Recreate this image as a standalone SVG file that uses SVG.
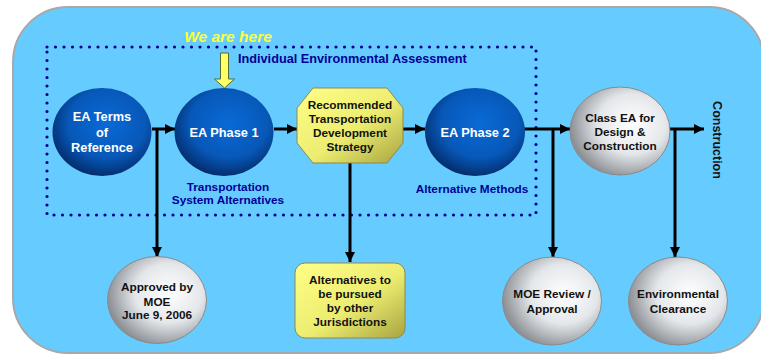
<svg xmlns="http://www.w3.org/2000/svg" width="761" height="355" viewBox="0 0 761 355">
<defs>
<radialGradient id="gBlue" cx="0.55" cy="0.4" r="0.6">
<stop offset="0" stop-color="#0a6ad6"/>
<stop offset="0.65" stop-color="#0758b8"/>
<stop offset="1" stop-color="#032f70"/>
</radialGradient>
<radialGradient id="gSilver" cx="0.62" cy="0.42" r="0.62">
<stop offset="0" stop-color="#ffffff"/>
<stop offset="0.55" stop-color="#e4e7ea"/>
<stop offset="1" stop-color="#8d9196"/>
</radialGradient>
<linearGradient id="gYellow" x1="0" y1="0" x2="1" y2="1">
<stop offset="0" stop-color="#ffff88"/>
<stop offset="0.55" stop-color="#ecec70"/>
<stop offset="1" stop-color="#a8a440"/>
</linearGradient>
<marker id="ah" viewBox="0 0 10 10" refX="10" refY="5" markerWidth="10" markerHeight="10" markerUnits="userSpaceOnUse" orient="auto">
<path d="M0,0 L10,5 L0,10 Z" fill="#000"/>
</marker>
</defs>
<style>
.lbl{font-family:"Liberation Sans",Arial,sans-serif;font-weight:bold;font-size:11.8px;text-anchor:middle}
.w{fill:#fff;font-size:12.8px}
.k{fill:#111}
.b{fill:#000099}
.edge{stroke:#000;stroke-width:3;fill:none}
</style>
<rect x="13" y="7" width="751" height="346" rx="55" ry="55" fill="#66ccff" stroke="#a8a8a8" stroke-width="2"/>
<g id="iea-box">
<rect x="47" y="47" width="489" height="168" fill="none" stroke="#000099" stroke-width="3.2" stroke-dasharray="0 8.5" stroke-linecap="round"/>
<text class="lbl b" x="238" y="63" style="text-anchor:start;font-size:12.7px">Individual Environmental Assessment</text>
</g>
<g id="we-are-here">
<text x="228" y="42" style="font-family:'Liberation Sans',Arial,sans-serif;font-weight:bold;font-style:italic;font-size:15.5px;text-anchor:middle;fill:#ffff33">We are here</text>
<path d="M220.5,53 L228.5,53 L228.5,79 L234.5,79 L224.5,88 L214.5,79 L220.5,79 Z" fill="#ffff66" stroke="#556b2f" stroke-width="1"/>
</g>
<g id="connectors">
<line class="edge" x1="152" y1="129" x2="175" y2="129" marker-end="url(#ah)"/>
<line class="edge" x1="157" y1="129" x2="157" y2="257" marker-end="url(#ah)"/>
<line class="edge" x1="274" y1="129" x2="297" y2="129" marker-end="url(#ah)"/>
<line class="edge" x1="350" y1="163" x2="350" y2="262" marker-end="url(#ah)"/>
<line class="edge" x1="403" y1="129" x2="425" y2="129" marker-end="url(#ah)"/>
<line class="edge" x1="520" y1="129" x2="570" y2="129" marker-end="url(#ah)"/>
<line class="edge" x1="553" y1="129" x2="553" y2="257" marker-end="url(#ah)"/>
<line class="edge" x1="670" y1="129" x2="704" y2="129" marker-end="url(#ah)"/>
<line class="edge" x1="675" y1="129" x2="675" y2="257" marker-end="url(#ah)"/>
</g>
<g id="ea-terms">
<ellipse cx="102" cy="132" rx="49.5" ry="44" fill="url(#gBlue)"/>
<text class="lbl w" x="102" y="121">EA Terms</text>
<text class="lbl w" x="102" y="137">of</text>
<text class="lbl w" x="102" y="152">Reference</text>
</g>
<g id="ea-phase1">
<ellipse cx="224" cy="132" rx="49.5" ry="44" fill="url(#gBlue)"/>
<text class="lbl w" x="224" y="137">EA Phase 1</text>
<text class="lbl b" x="228" y="191">Transportation</text>
<text class="lbl b" x="228" y="204">System Alternatives</text>
</g>
<g id="rtds">
<polygon points="313,88 387,88 403,108 403,143 387,163 313,163 297,143 297,108" fill="url(#gYellow)" stroke="#8a8a50" stroke-width="1"/>
<text class="lbl k" x="350" y="109">Recommended</text>
<text class="lbl k" x="350" y="123">Transportation</text>
<text class="lbl k" x="350" y="137">Development</text>
<text class="lbl k" x="350" y="151">Strategy</text>
</g>
<g id="ea-phase2">
<ellipse cx="475" cy="132" rx="50" ry="44" fill="url(#gBlue)"/>
<text class="lbl w" x="475" y="137">EA Phase 2</text>
<text class="lbl b" x="472" y="193">Alternative Methods</text>
</g>
<g id="class-ea">
<ellipse cx="620" cy="131" rx="50" ry="44" fill="url(#gSilver)" stroke="#8a8a8a" stroke-width="1"/>
<text class="lbl k" x="620" y="122">Class EA for</text>
<text class="lbl k" x="620" y="136">Design &amp;</text>
<text class="lbl k" x="620" y="150">Construction</text>
</g>
<g id="construction">
<text class="lbl k" transform="translate(713,140) rotate(90)" x="0" y="0" style="font-size:12.5px">Construction</text>
</g>
<g id="approved">
<ellipse cx="157" cy="300" rx="49.5" ry="43.5" fill="url(#gSilver)" stroke="#8a8a8a" stroke-width="1"/>
<text class="lbl k" x="157" y="291">Approved by</text>
<text class="lbl k" x="157" y="306">MOE</text>
<text class="lbl k" x="157" y="319">June 9, 2006</text>
</g>
<g id="alternatives">
<rect x="295" y="263" width="110" height="75" rx="10" ry="10" fill="url(#gYellow)" stroke="#8a8a50" stroke-width="1"/>
<text class="lbl k" x="350" y="284">Alternatives to</text>
<text class="lbl k" x="350" y="298">be pursued</text>
<text class="lbl k" x="350" y="312">by other</text>
<text class="lbl k" x="350" y="326">Jurisdictions</text>
</g>
<g id="moe-review">
<ellipse cx="552" cy="301" rx="49.5" ry="44" fill="url(#gSilver)" stroke="#8a8a8a" stroke-width="1"/>
<text class="lbl k" x="552" y="298">MOE Review /</text>
<text class="lbl k" x="552" y="313">Approval</text>
</g>
<g id="env-clearance">
<ellipse cx="678" cy="301" rx="49.5" ry="44" fill="url(#gSilver)" stroke="#8a8a8a" stroke-width="1"/>
<text class="lbl k" x="678" y="298">Environmental</text>
<text class="lbl k" x="678" y="313">Clearance</text>
</g>
</svg>
